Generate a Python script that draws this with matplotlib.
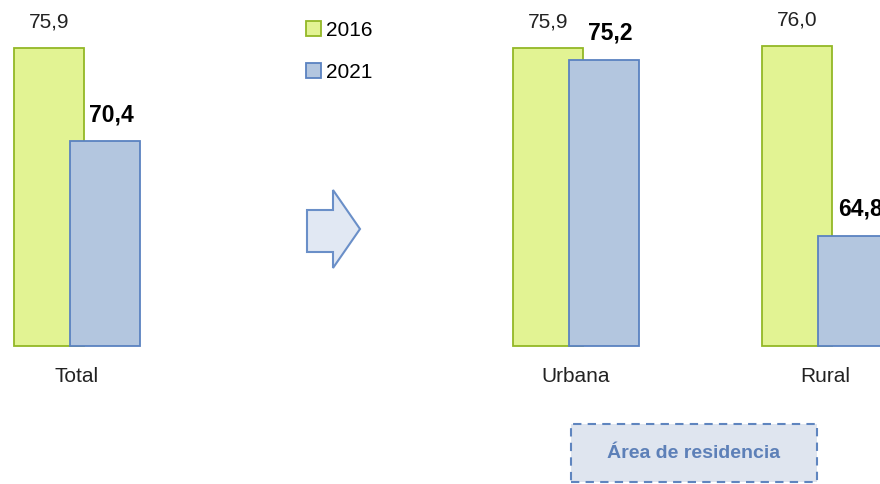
import matplotlib.pyplot as plt
from matplotlib.patches import Polygon, FancyBboxPatch

plt.rcParams['font.family'] = ['Liberation Sans', 'DejaVu Sans']

categories = ['Total', 'Urbana', 'Rural']
positions = [0, 2, 3]
years = ['2016', '2021']
v2016 = [75.9, 75.9, 76.0]
v2021 = [70.4, 75.2, 64.8]

W, H = 880, 484
fig = plt.figure(figsize=(W / 100, H / 100), dpi=100)
ax = fig.add_axes([0, 0, 1, 1])
ax.set_xlim(-0.3076, 3.219)
ax.set_ylim(50.10, 78.74)
ax.axis('off')

base = 58.24
width = 0.28
off = 0.224

b1 = ax.bar([p - off / 2 for p in positions], [v - base for v in v2016], width,
            bottom=base, color='#e2f393', edgecolor='#93b826', lw=1.3,
            label=years[0], zorder=2)
b2 = ax.bar([p + off / 2 for p in positions], [v - base for v in v2021], width,
            bottom=base, color='#b3c6df', edgecolor='#5a82c0', lw=1.3,
            label=years[1], zorder=3)

for rect, v in zip(b1, v2016):
    ax.annotate(f'{v:.1f}'.replace('.', ','),
                (rect.get_x() + rect.get_width() / 2, v),
                xytext=(0, 19), textcoords='offset points',
                ha='center', va='center', fontsize=15, color='#222222')
for rect, v in zip(b2, v2021):
    ax.annotate(f'{v:.1f}'.replace('.', ','),
                (rect.get_x() + rect.get_width() / 2, v),
                xytext=(5, 19), textcoords='offset points',
                ha='center', va='center', fontsize=16.5, fontweight='bold',
                color='black')

for p, c in zip(positions, categories):
    ax.annotate(c, (p, base), xytext=(0, -22), textcoords='offset points',
                ha='center', va='center', fontsize=15, color='#222222')

leg = fig.legend(handles=[b1, b2], loc='upper left',
                 bbox_to_anchor=(287 / W, 1 - 2 / H), frameon=False,
                 fontsize=15, handlelength=0.75, handleheight=0.75,
                 handletextpad=0.2, labelspacing=1.1)


def px(x, y):
    return (x / W, 1 - y / H)


arrow = Polygon([px(307, 210), px(333, 210), px(333, 190), px(360, 229),
                 px(333, 268), px(333, 252), px(307, 252)],
                closed=True, transform=fig.transFigure,
                facecolor='#e1e8f3', edgecolor='#6a8fc8', lw=1.5)
fig.patches.append(arrow)

box = FancyBboxPatch(px(571, 482), 246 / W, 58 / H, boxstyle='square,pad=0',
                     transform=fig.transFigure, facecolor='#dfe5ef',
                     edgecolor='#5f85bf', lw=1.5, ls=(0, (4, 3)))
fig.patches.append(box)
fig.text(694 / W, 1 - 454 / H, 'Área de residencia', ha='center', va='center',
         fontsize=14, fontweight='bold', color='#5d80b8')

fig.savefig('out.png', dpi=100)
